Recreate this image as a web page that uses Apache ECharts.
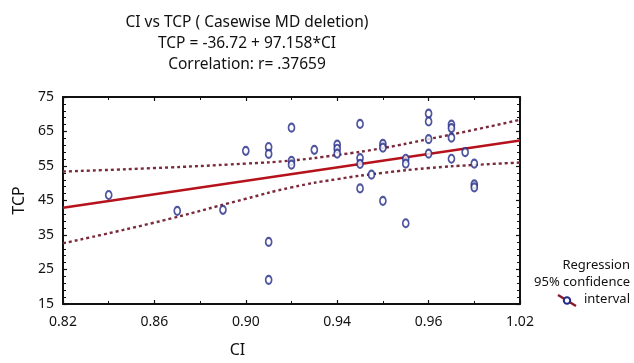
<!DOCTYPE html>
<html><head><meta charset="utf-8">
<script src="https://cdn.jsdelivr.net/npm/echarts@6/dist/echarts.min.js"></script>
<style>html,body{margin:0;padding:0;background:#fff}#c{width:634px;height:363px}</style>
</head><body><div id="c"></div>
<script>
// Data
const ciValues  = [0.84,0.87,0.89,0.90,0.91,0.91,0.91,0.91,0.92,0.92,0.92,0.93,0.94,0.94,0.94,0.95,0.95,0.95,0.95,0.955,0.96,0.96,0.96,0.97,0.97,0.97,0.98,0.98,0.98,0.98,0.99,0.99,0.99,0.99,0.996,1.00,1.00,1.00];
const tcpValues = [46.6,42.0,42.3,59.4,60.5,58.5,33.0,22.0,66.1,56.5,55.4,59.7,61.2,60.0,58.6,67.2,57.3,55.6,48.5,52.5,61.4,60.3,44.9,57.1,55.7,38.4,70.2,67.9,62.8,58.6,67.0,66.0,63.2,57.1,59.0,55.7,49.7,48.8];
const regX = [0.82, 1.02];
const regY = [42.9, 62.4];
const bandX     = [0.82,0.86,0.90,0.92,0.94,0.96,0.98,1.00,1.02];
const bandUpper = [53.4,54.4,55.7,56.6,58.2,60.2,62.8,65.5,68.4];
const bandLower = [32.6,38.6,45.5,48.8,51.2,53.0,54.4,55.3,56.0];
const xTickLabels = ['0.82','0.86','0.90','0.94','0.96','1.02'];
const yTickLabels = ['15','25','35','45','55','65','75'];

const FONT = 'Noto Sans';
const pair = (xs, ys) => xs.map((x, i) => [x, ys[i]]);
const chart = echarts.init(document.getElementById('c'), null, {renderer: 'canvas'});
const axisLine = {show: true, lineStyle: {color: '#111', width: 2}};
const ticks = {show: true, inside: true, length: 4, lineStyle: {color: '#111', width: 1.2}};
const minor = {show: true, splitNumber: 2, length: 3, lineStyle: {color: '#111', width: 1}};
const minorY = {show: true, splitNumber: 5, length: 3, lineStyle: {color: '#111', width: 1}};
const titleStyle = {fontFamily: FONT, fontSize: 15.5, fontWeight: 'normal', color: '#111'};
chart.setOption({
  animation: false,
  backgroundColor: '#fff',
  title: [
    {text: 'CI vs TCP ( Casewise MD deletion)', left: 242, top: 10, textAlign: 'center', textStyle: titleStyle},
    {text: 'TCP = -36.72 + 97.158*CI', left: 242, top: 31, textAlign: 'center', textStyle: titleStyle},
    {text: 'Correlation: r= .37659', left: 242, top: 52, textAlign: 'center', textStyle: titleStyle}
  ],
  grid: {left: 63, right: 114, top: 97, bottom: 49, containLabel: false},
  xAxis: [
    {type: 'value', min: 0.82, max: 1.02, interval: 0.04, position: 'bottom',
     name: 'CI', nameLocation: 'middle', nameGap: 38,
     nameTextStyle: {fontFamily: FONT, fontSize: 16, color: '#111', padding: [0, 0, 0, -108]},
     axisLine, axisTick: ticks, minorTick: minor, splitLine: {show: false},
     axisLabel: {fontFamily: FONT, fontSize: 14, color: '#111', margin: 11,
       formatter: v => xTickLabels[Math.round((v - 0.82) / 0.04)] || ''}},
    {type: 'value', min: 0.82, max: 1.02, interval: 0.04, position: 'top',
     axisLine, axisTick: ticks, minorTick: minor, splitLine: {show: false}, axisLabel: {show: false}}
  ],
  yAxis: [
    {type: 'value', min: 15, max: 75, interval: 10, position: 'left',
     name: 'TCP', nameLocation: 'middle', nameGap: 26,
     nameTextStyle: {fontFamily: FONT, fontSize: 16, color: '#111'},
     axisLine, axisTick: ticks, minorTick: minorY, splitLine: {show: false},
     axisLabel: {fontFamily: FONT, fontSize: 14, color: '#111', margin: 9,
       formatter: v => yTickLabels[Math.round((v - 15) / 10)] || ''}},
    {type: 'value', min: 15, max: 75, interval: 10, position: 'right',
     axisLine, axisTick: ticks, minorTick: minorY, splitLine: {show: false}, axisLabel: {show: false}}
  ],
  series: [
    {type: 'line', data: pair(bandX, bandUpper), smooth: true, symbol: 'none',
     lineStyle: {color: '#7a2a3a', width: 2.4, type: [3, 3]}, z: 2},
    {type: 'line', data: pair(bandX, bandLower), smooth: true, symbol: 'none',
     lineStyle: {color: '#7a2a3a', width: 2.4, type: [3, 3]}, z: 2},
    {type: 'line', data: pair(regX, regY), symbol: 'none',
     lineStyle: {color: '#b5121b', width: 2.4}, z: 3},
    {type: 'scatter', data: pair(ciValues, tcpValues), symbol: 'circle', symbolSize: [6, 8],
     itemStyle: {color: '#fff', borderColor: '#232a86', borderWidth: 1.9}, z: 4}
  ],
  graphic: [
    {type: 'text', right: 4, top: 259, style: {text: 'Regression', fontFamily: FONT, fontSize: 13, fill: '#111', textAlign: 'right'}},
    {type: 'text', right: 4, top: 276, style: {text: '95% confidence', fontFamily: FONT, fontSize: 13, fill: '#111', textAlign: 'right'}},
    {type: 'text', right: 4, top: 293, style: {text: 'interval', fontFamily: FONT, fontSize: 13, fill: '#111', textAlign: 'right'}},
    {type: 'line', shape: {x1: 558, y1: 295, x2: 576, y2: 306}, style: {stroke: '#8a1a2a', lineWidth: 2.5}},
    {type: 'circle', shape: {cx: 567, cy: 300.5, r: 3.2}, style: {fill: '#fff', stroke: '#232a86', lineWidth: 2}}
  ]
});
</script></body></html>
